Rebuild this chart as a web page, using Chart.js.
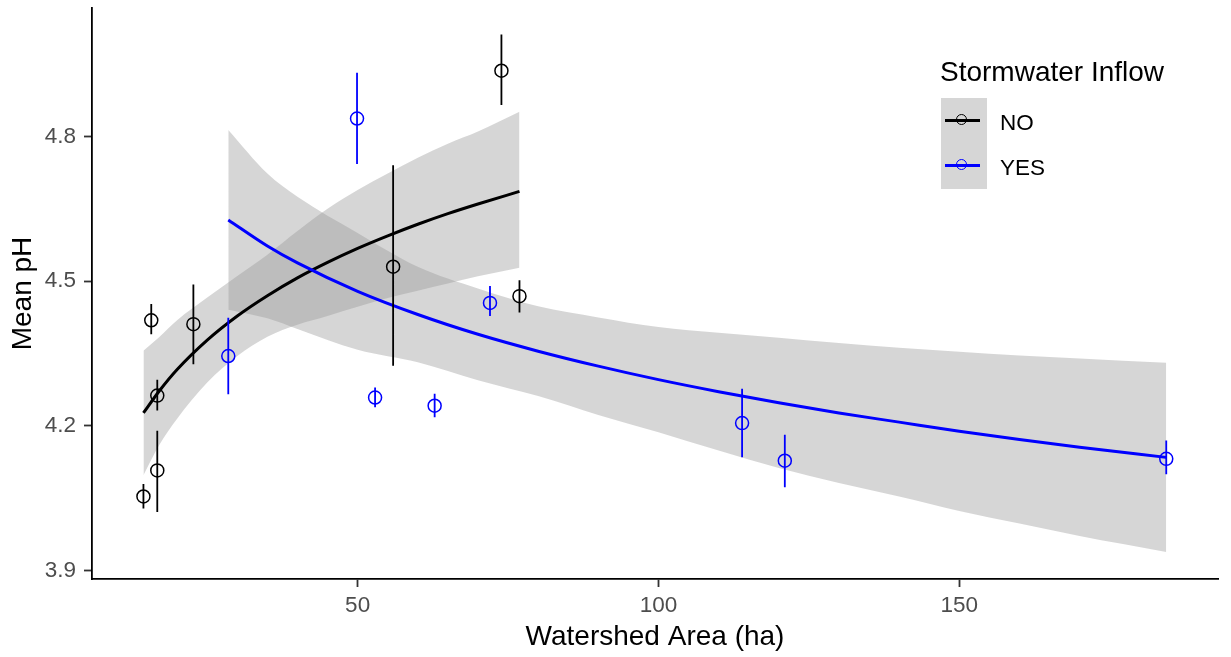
<!DOCTYPE html>
<html>
<head>
<meta charset="utf-8">
<script src="https://cdn.jsdelivr.net/npm/chart.js@4.4.0/dist/chart.umd.min.js"></script>
<style>
  html, body { margin: 0; padding: 0; background: #fff; }
  #wrap { position: relative; width: 1231px; height: 657px; font-family: "Liberation Sans", Arial, sans-serif; }
  .lg-title { position: absolute; left: 940px; top: 58px; font-size: 28px; line-height: 28px; color: #000; white-space: nowrap; }
  .lg-keys { position: absolute; left: 941px; top: 98px; width: 46px; height: 91px; background: #d6d6d6; }
  .lg-line { position: absolute; left: 4px; width: 35px; height: 3px; }
  .lg-dot { position: absolute; left: 15px; width: 9px; height: 9px; border-radius: 50%; border: 1.5px solid; background: transparent; }
  .lg-label { position: absolute; left: 1000px; font-size: 22.5px; line-height: 22.5px; color: #000; white-space: nowrap; }
</style>
</head>
<body>
<div id="wrap">
  <canvas id="chart"></canvas>
  <div class="lg-title">Stormwater Inflow</div>
  <div class="lg-keys">
    <div class="lg-line" style="top:21px;background:#000"></div>
    <div class="lg-dot" style="top:16px;border-color:#000"></div>
    <div class="lg-line" style="top:66px;background:#0000ff"></div>
    <div class="lg-dot" style="top:61px;border-color:#0000ff"></div>
  </div>
  <div class="lg-label" style="top:112px">NO</div>
  <div class="lg-label" style="top:157px">YES</div>
</div>
<script>
// observed site means with error bars
const noArea  = [14.4, 15.7, 16.7, 16.7, 22.7, 55.9, 73.9, 76.9];
const noPH    = [4.054, 4.419, 4.263, 4.108, 4.411, 4.530, 4.936, 4.469];
const noLow   = [4.029, 4.390, 4.232, 4.022, 4.328, 4.325, 4.865, 4.435];
const noHigh  = [4.080, 4.453, 4.296, 4.190, 4.493, 4.740, 5.011, 4.502];

const yesArea = [28.5, 49.9, 52.9, 62.8, 72.0, 113.9, 121.0, 184.4];
const yesPH   = [4.345, 4.837, 4.259, 4.242, 4.455, 4.206, 4.128, 4.132];
const yesLow  = [4.266, 4.743, 4.239, 4.218, 4.428, 4.135, 4.073, 4.100];
const yesHigh = [4.424, 4.932, 4.280, 4.267, 4.490, 4.277, 4.182, 4.170];

// fitted curves + confidence bands
const noFitX  = [14.4, 17, 20, 25, 30, 35, 40, 45, 50, 55, 60, 65, 70, 76.9];
const noFit   = [4.227, 4.272, 4.317, 4.378, 4.428, 4.470, 4.507, 4.539, 4.568, 4.594, 4.618, 4.640, 4.660, 4.686];
const noBandLo = [4.098, 4.160, 4.215, 4.290, 4.345, 4.385, 4.410, 4.428, 4.447, 4.465, 4.480, 4.495, 4.510, 4.528];
const noBandHi = [4.356, 4.384, 4.419, 4.466, 4.511, 4.555, 4.604, 4.650, 4.689, 4.723, 4.756, 4.785, 4.810, 4.851];

const yesFitX = [28.5, 35, 40, 50, 60, 70, 80, 90, 100, 110, 120, 130, 140, 150, 160, 170, 184.4];
const yesFit  = [4.627, 4.573, 4.538, 4.479, 4.431, 4.390, 4.355, 4.324, 4.296, 4.271, 4.248, 4.227, 4.208, 4.189, 4.172, 4.156, 4.135];
const yesBandLo = [4.441, 4.423, 4.401, 4.358, 4.332, 4.295, 4.262, 4.223, 4.187, 4.149, 4.113, 4.082, 4.054, 4.024, 3.998, 3.972, 3.939];
const yesBandHi = [4.813, 4.723, 4.675, 4.600, 4.530, 4.485, 4.448, 4.425, 4.405, 4.393, 4.383, 4.372, 4.362, 4.354, 4.346, 4.340, 4.331];

const xTicks = [50, 100, 150];
const yTicks = [3.9, 4.2, 4.5, 4.8];

const BAND = 'rgba(153,153,153,0.4)';
const BLUE = '#0000ff';

const xy = (xs, ys) => xs.map((x, i) => ({ x, y: ys[i] }));
function whiskers(xs, lo, hi) {
  const pts = [];
  xs.forEach((x, i) => pts.push({ x, y: lo[i] }, { x, y: hi[i] }, { x, y: null }));
  return pts;
}

const pointDs = (data, color) => ({
  data, showLine: false, borderColor: color, backgroundColor: 'rgba(0,0,0,0)',
  pointRadius: 6.5, pointBorderWidth: 1.5, pointBackgroundColor: 'rgba(0,0,0,0)', pointBorderColor: color
});
const barDs = (data, color) => ({
  data, borderColor: color, borderWidth: 1.8, pointRadius: 0, spanGaps: false, fill: false
});
const fitDs = (data, color) => ({
  data, borderColor: color, borderWidth: 3, pointRadius: 0, fill: false, cubicInterpolationMode: 'monotone'
});
const bandDs = (data, fillTo) => ({
  data, borderColor: 'rgba(0,0,0,0)', borderWidth: 0, pointRadius: 0,
  backgroundColor: BAND, fill: fillTo === undefined ? false : fillTo, cubicInterpolationMode: 'monotone'
});

Chart.defaults.font.family = '"Liberation Sans", Arial, sans-serif';

// keep the plot area at fixed pixel bounds (no label-overhang padding)
const pinX = s => { s.height = 78; s.paddingLeft = 0; s.paddingRight = 0; };
const pinY = s => { s.width = 92; s.paddingTop = 0; s.paddingBottom = 0; };

new Chart(document.getElementById('chart'), {
  type: 'line',
  data: {
    datasets: [
      pointDs(xy(noArea, noPH), '#000000'),              // 0
      pointDs(xy(yesArea, yesPH), BLUE),                 // 1
      barDs(whiskers(noArea, noLow, noHigh), '#000000'), // 2
      barDs(whiskers(yesArea, yesLow, yesHigh), BLUE),   // 3
      fitDs(xy(yesFitX, yesFit), BLUE),                  // 4
      fitDs(xy(noFitX, noFit), '#000000'),               // 5
      bandDs(xy(noFitX, noBandLo)),                      // 6
      bandDs(xy(noFitX, noBandHi), 6),                   // 7
      bandDs(xy(yesFitX, yesBandLo)),                    // 8
      bandDs(xy(yesFitX, yesBandHi), 8),                 // 9
    ]
  },
  options: {
    responsive: true,
    maintainAspectRatio: false,
    animation: false,
    layout: { padding: { top: 6, right: 13, bottom: 0, left: 0 } },
    plugins: { legend: { display: false }, tooltip: { enabled: false } },
    scales: {
      x: {
        type: 'linear', min: 5.85, max: 193.0,
        afterFit: pinX,
        border: { display: true, color: '#000', width: 1.8 },
        grid: { display: true, drawOnChartArea: false, drawTicks: true, tickLength: 8, tickColor: '#333333', tickWidth: 1.8 },
        afterBuildTicks: s => { s.ticks = xTicks.map(v => ({ value: v })); },
        ticks: { color: '#4d4d4d', font: { size: 22.5 }, padding: 5, maxRotation: 0, callback: v => String(v) },
        title: { display: true, text: 'Watershed Area (ha)', color: '#000', font: { size: 28 }, padding: { top: 6, bottom: 3 } }
      },
      y: {
        type: 'linear', min: 3.883, max: 5.066,
        afterFit: pinY,
        border: { display: true, color: '#000', width: 1.8 },
        grid: { display: true, drawOnChartArea: false, drawTicks: true, tickLength: 8, tickColor: '#333333', tickWidth: 1.8 },
        afterBuildTicks: s => { s.ticks = yTicks.map(v => ({ value: v })); },
        ticks: { color: '#4d4d4d', font: { size: 22.5 }, padding: 8, callback: v => v.toFixed(1) },
        title: { display: true, text: 'Mean pH', color: '#000', font: { size: 28 }, padding: { top: 6, bottom: 3 } }
      }
    }
  }
});
</script>
</body>
</html>
